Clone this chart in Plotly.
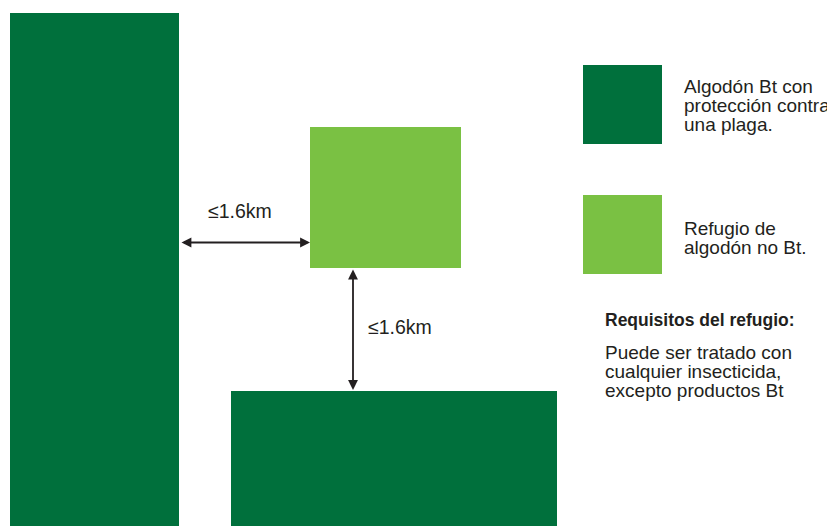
import plotly.graph_objects as go

# Field blocks (diagram units = pixels of the 835x526 canvas)
field_names = ["Bt izquierda", "Refugio", "Bt inferior", "Leyenda Bt", "Leyenda refugio"]
field_x0 = [10, 310, 231, 583, 583]
field_x1 = [179, 461, 557, 662, 662]
field_y0 = [13, 127, 391, 65, 195]
field_y1 = [526, 268, 526, 144, 274]
field_kind = ["bt", "ref", "bt", "bt", "ref"]

colors = {"bt": "#00703C", "ref": "#7AC143"}

# Distance arrows
arrow_x0 = [180, 353]
arrow_y0 = [242.5, 268]
arrow_x1 = [310, 353]
arrow_y1 = [242.5, 390]
arrow_labels = ["≤1.6km", "≤1.6km"]
label_x = [206, 366]
label_y = [211, 327]

# Legend / requirement text lines
text_lines = [
    "Algodón Bt con", "protección contra", "una plaga.",
    "Refugio de", "algodón no Bt.",
    "Puede ser tratado con", "cualquier insecticida,", "excepto productos Bt",
]
text_x = [682, 682, 682, 682, 682, 603, 603, 603]
text_y = [86, 105, 124, 228, 247, 352, 371, 390]
req_title = "Requisitos del refugio:"

FONT = "Liberation Sans"
TXT = "#231F20"

# page body has an 8px default margin; offset the axes so coordinates match the canvas
OFF = 8
W, H = 835, 526

fig = go.Figure()
fig.add_trace(go.Scatter(x=[OFF, W], y=[OFF, H], mode="markers",
                         marker=dict(opacity=0), hoverinfo="skip", showlegend=False))

for x0, x1, y0, y1, k in zip(field_x0, field_x1, field_y0, field_y1, field_kind):
    fig.add_shape(type="rect", x0=x0, x1=x1, y0=y0, y1=y1, xref="x", yref="y",
                  fillcolor=colors[k], line=dict(width=0), layer="below")

for ax, ay, x, y in zip(arrow_x0, arrow_y0, arrow_x1, arrow_y1):
    fig.add_annotation(x=x, y=y, ax=ax, ay=ay, xref="x", yref="y", axref="x", ayref="y",
                       text="", showarrow=True, arrowhead=2, startarrowhead=2,
                       arrowside="end+start", arrowsize=1.1, startarrowsize=1.1,
                       arrowwidth=1.8, arrowcolor=TXT)

for t, x, y in zip(arrow_labels, label_x, label_y):
    fig.add_annotation(x=x, y=y, xref="x", yref="y", text=t, showarrow=False,
                       xanchor="left", yanchor="middle",
                       font=dict(family=FONT, size=19.5, color=TXT))

for t, x, y in zip(text_lines, text_x, text_y):
    fig.add_annotation(x=x, y=y, xref="x", yref="y", text=t, showarrow=False,
                       xanchor="left", yanchor="middle", align="left",
                       font=dict(family=FONT, size=19, color=TXT))

fig.add_annotation(x=603, y=320, xref="x", yref="y", text="<b>" + req_title + "</b>",
                   showarrow=False, xanchor="left", yanchor="middle",
                   font=dict(family=FONT, size=17.5, color=TXT))

fig.update_xaxes(range=[OFF, W], visible=False, fixedrange=True)
fig.update_yaxes(range=[H, OFF], visible=False, fixedrange=True)
fig.update_layout(width=W - OFF, height=H - OFF, margin=dict(l=0, r=0, t=0, b=0),
                  paper_bgcolor="white", plot_bgcolor="white", showlegend=False)

fig.write_html("out.html")
